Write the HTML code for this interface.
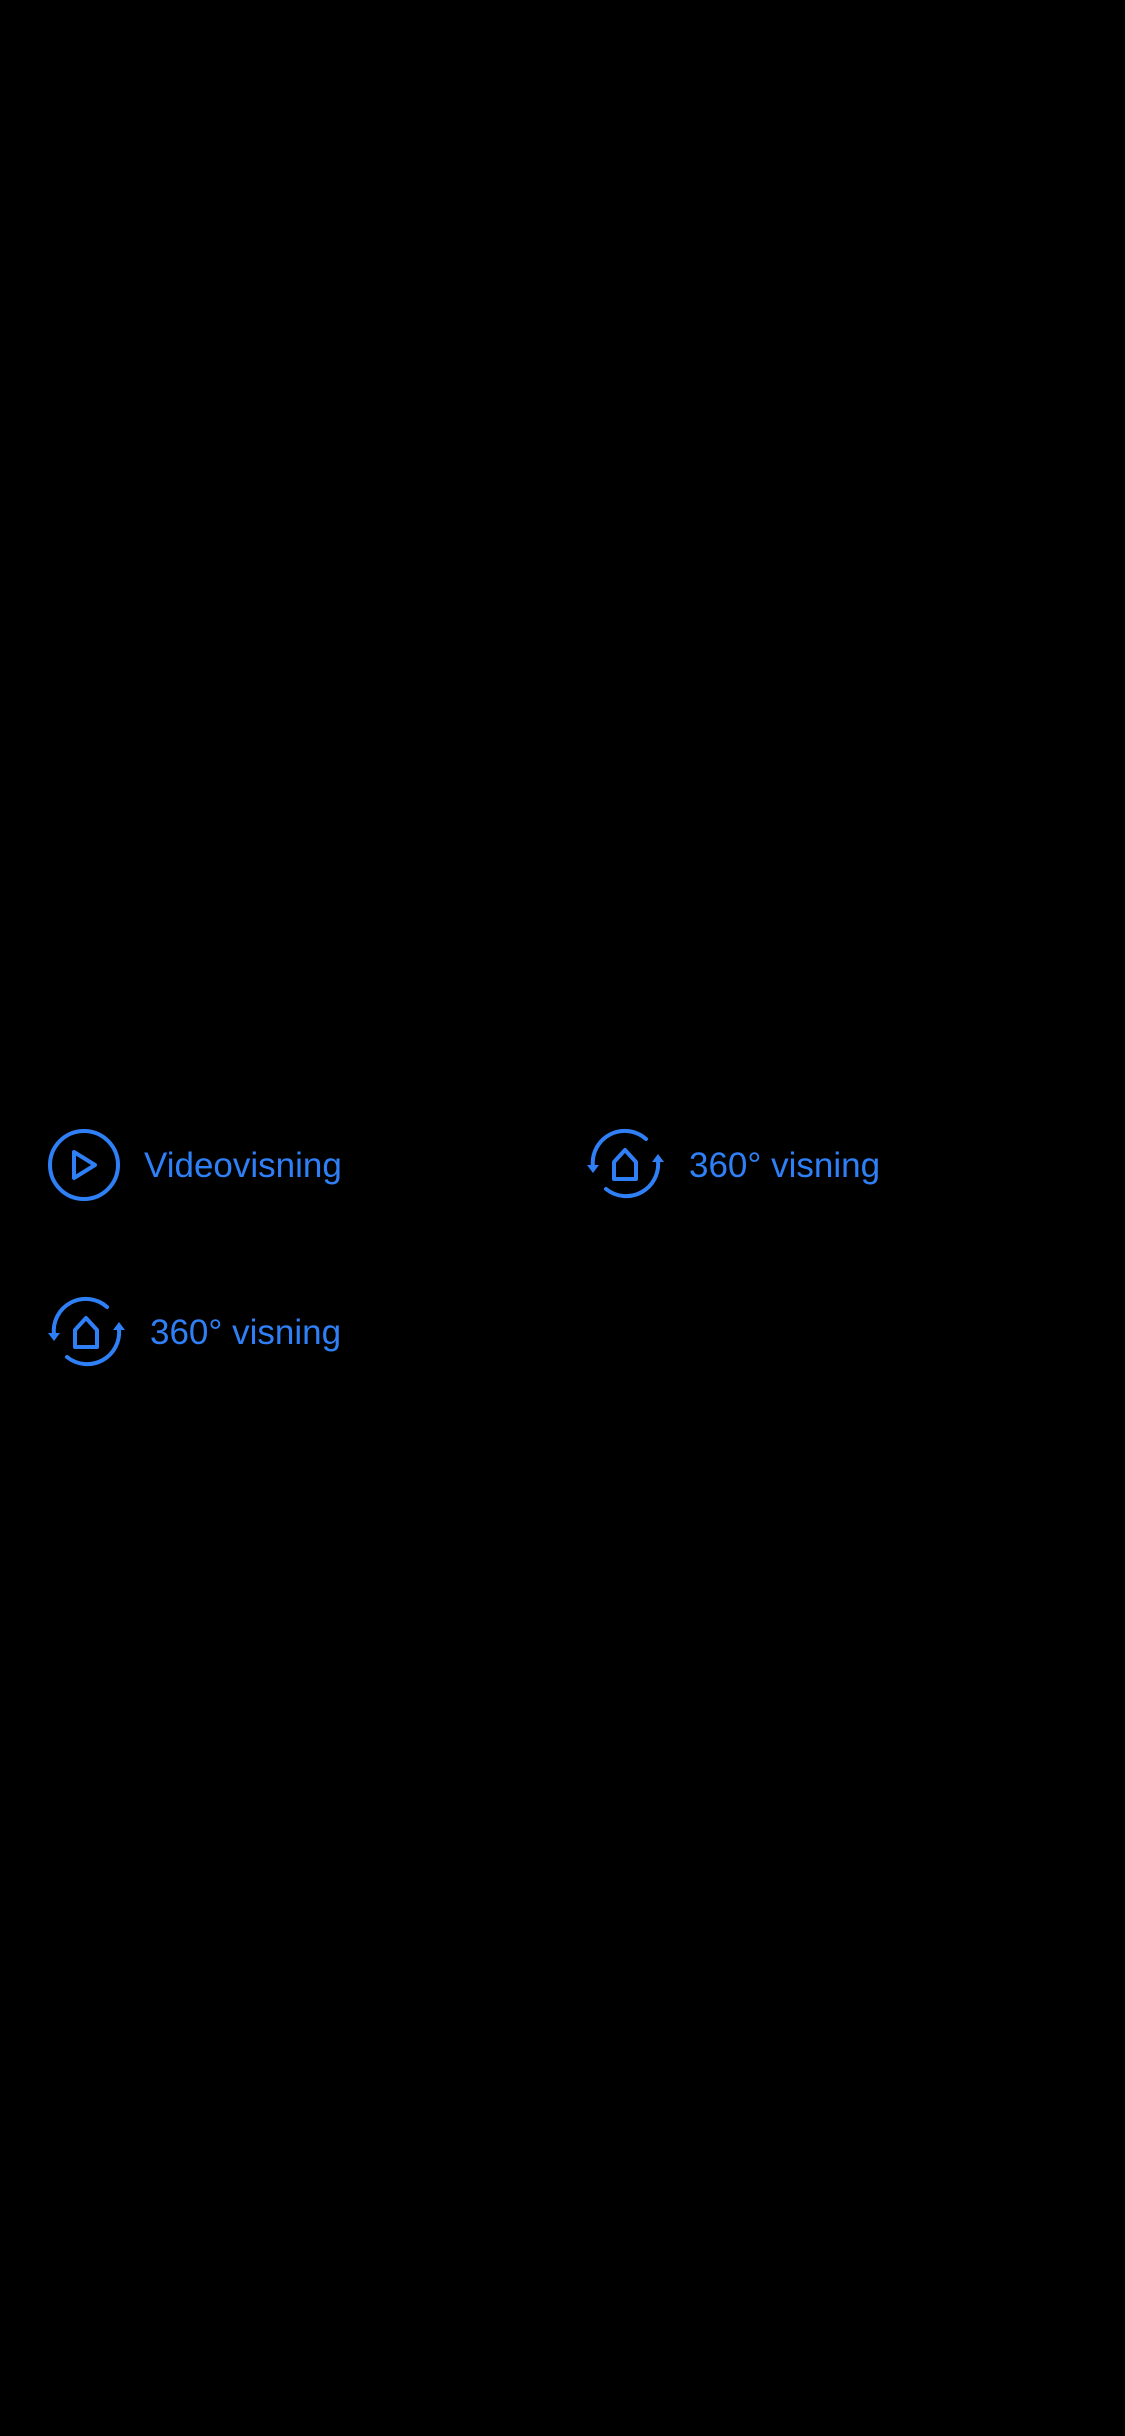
<!DOCTYPE html>
<html><head><meta charset="utf-8"><style>
html,body{margin:0;padding:0;background:#000;width:1125px;height:2436px;overflow:hidden}
.lbl{position:absolute;font-family:"Liberation Sans",sans-serif;font-size:35px;color:#2f80f7;font-weight:normal;line-height:1;white-space:nowrap}
svg{position:absolute}
</style></head><body>

<svg style="left:44px;top:1125px" width="80" height="80" viewBox="0 0 80 80">
<circle cx="40" cy="40" r="34" fill="none" stroke="#2f80f7" stroke-width="4"/>
<path d="M30,27 L51,40 L30,53 Z" fill="none" stroke="#2f80f7" stroke-width="4" stroke-linejoin="round"/>
</svg>
<div class="lbl" style="left:144px;top:1148px">Videovisning</div>

<svg style="left:580px;top:1125px" width="90" height="80" viewBox="0 0 90 80">
<g fill="none" stroke="#2f80f7" stroke-width="4" stroke-linecap="round" stroke-linejoin="round">
<path d="M13,42 A32,32 0 0 1 66,14"/>
<path d="M26,64 A32,32 0 0 0 78,36"/>
<path d="M34,54 V37 L45,25 L56,37 V54 Z"/>
</g>
<polygon points="7,40 19,40 13,48" fill="#2f80f7"/>
<polygon points="72,37 84,37 78,29" fill="#2f80f7"/>
</svg>
<div class="lbl" style="left:689px;top:1148px">360° visning</div>

<svg style="left:41px;top:1293px" width="90" height="80" viewBox="0 0 90 80">
<g fill="none" stroke="#2f80f7" stroke-width="4" stroke-linecap="round" stroke-linejoin="round">
<path d="M13,42 A32,32 0 0 1 66,14"/>
<path d="M26,64 A32,32 0 0 0 78,36"/>
<path d="M34,54 V37 L45,25 L56,37 V54 Z"/>
</g>
<polygon points="7,40 19,40 13,48" fill="#2f80f7"/>
<polygon points="72,37 84,37 78,29" fill="#2f80f7"/>
</svg>
<div class="lbl" style="left:150px;top:1315px">360° visning</div>

</body></html>
